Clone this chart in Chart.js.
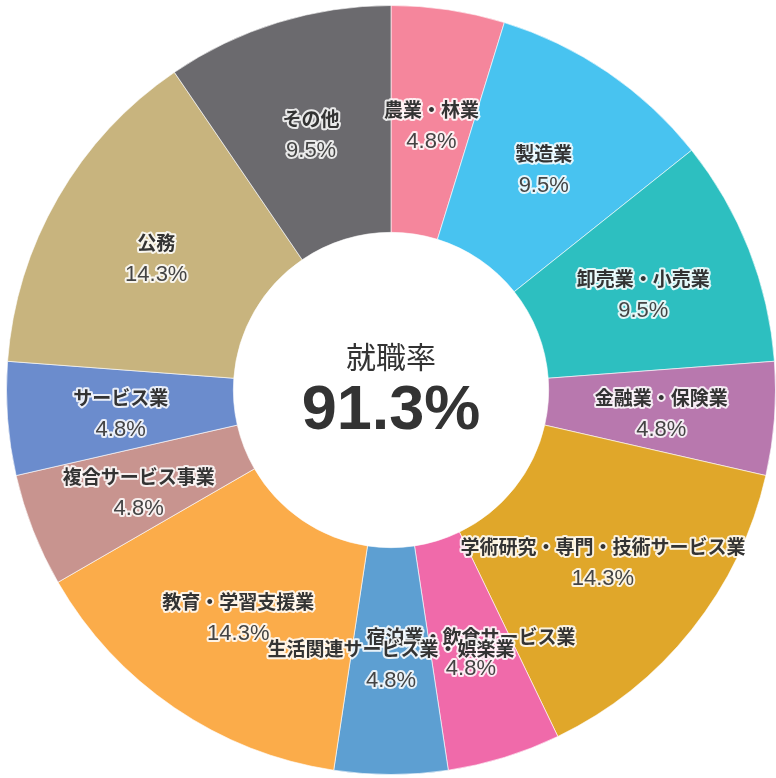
<!DOCTYPE html>
<html lang="ja">
<head>
<meta charset="utf-8">
<script src="https://cdn.jsdelivr.net/npm/chart.js@4"></script>
<style>
  html, body { margin: 0; padding: 0; background: #fff; }
  #wrap { width: 776px; height: 778px; }
</style>
</head>
<body>
<div id="wrap"><canvas id="jobChart"></canvas></div>
<script>
// 業種別 就職者数（人）
const categories = ['農業・林業', '製造業', '卸売業・小売業', '金融業・保険業', '学術研究・専門・技術サービス業',
  '宿泊業・飲食サービス業', '生活関連サービス業・娯楽業', '教育・学習支援業', '複合サービス事業', 'サービス業', '公務', 'その他'];
const counts = [1, 2, 2, 1, 3, 1, 1, 3, 1, 1, 3, 2];
const percentLabels = ['4.8%', '9.5%', '9.5%', '4.8%', '14.3%', '4.8%', '4.8%', '14.3%', '4.8%', '4.8%', '14.3%', '9.5%'];
const colors = ['#f5869c', '#48c3f0', '#2dbfc0', '#b878ae', '#e0a72a', '#f06aaa',
  '#5d9fd2', '#fbac4a', '#c8948f', '#6b8ccd', '#c8b47e', '#6b6a6e'];
const centerTitle = '就職率';
const centerValue = '91.3%';

const JP = '"Noto Sans CJK JP", sans-serif';
const NUM = '"Liberation Sans", Arial, sans-serif';

// 各セグメントの中央に業種名と割合を描く
const sliceLabels = {
  id: 'sliceLabels',
  afterDatasetsDraw(chart) {
    const ctx = chart.ctx;
    const arcs = chart.getDatasetMeta(0).data;
    ctx.save();
    ctx.textAlign = 'center';
    ctx.textBaseline = 'middle';
    ctx.lineJoin = 'round';
    arcs.forEach((arc, i) => {
      const p = arc.tooltipPosition();
      const lines = [
        { text: categories[i], font: 'bold 19px ' + JP, dy: -12, color: '#333' },
        { text: percentLabels[i], font: '22px ' + NUM, dy: 20, color: '#444' }
      ];
      lines.forEach(l => {
        ctx.font = l.font;
        ctx.strokeStyle = 'rgba(255,255,255,0.85)';
        ctx.lineWidth = 4;
        ctx.strokeText(l.text, p.x, p.y + l.dy);
        ctx.fillStyle = l.color;
        ctx.fillText(l.text, p.x, p.y + l.dy);
      });
    });
    ctx.restore();
  }
};

// 中央の就職率
const centerText = {
  id: 'centerText',
  afterDraw(chart) {
    const ctx = chart.ctx;
    const arc = chart.getDatasetMeta(0).data[0];
    ctx.save();
    ctx.textAlign = 'center';
    ctx.textBaseline = 'middle';
    ctx.fillStyle = '#333';
    ctx.font = '30px ' + JP;
    ctx.fillText(centerTitle, arc.x, arc.y - 33);
    ctx.font = 'bold 63px ' + NUM;
    ctx.fillText(centerValue, arc.x, arc.y + 22);
    ctx.restore();
  }
};

new Chart(document.getElementById('jobChart'), {
  type: 'doughnut',
  data: {
    labels: categories,
    datasets: [{
      data: counts,
      backgroundColor: colors,
      borderColor: 'rgba(255,255,255,0.6)',
      borderWidth: 1
    }]
  },
  options: {
    responsive: true,
    maintainAspectRatio: false,
    animation: false,
    cutout: '41%',
    layout: { padding: { left: 6, top: 2 } },
    plugins: {
      legend: { display: false },
      tooltip: { enabled: false }
    }
  },
  plugins: [sliceLabels, centerText]
});
</script>
</body>
</html>
